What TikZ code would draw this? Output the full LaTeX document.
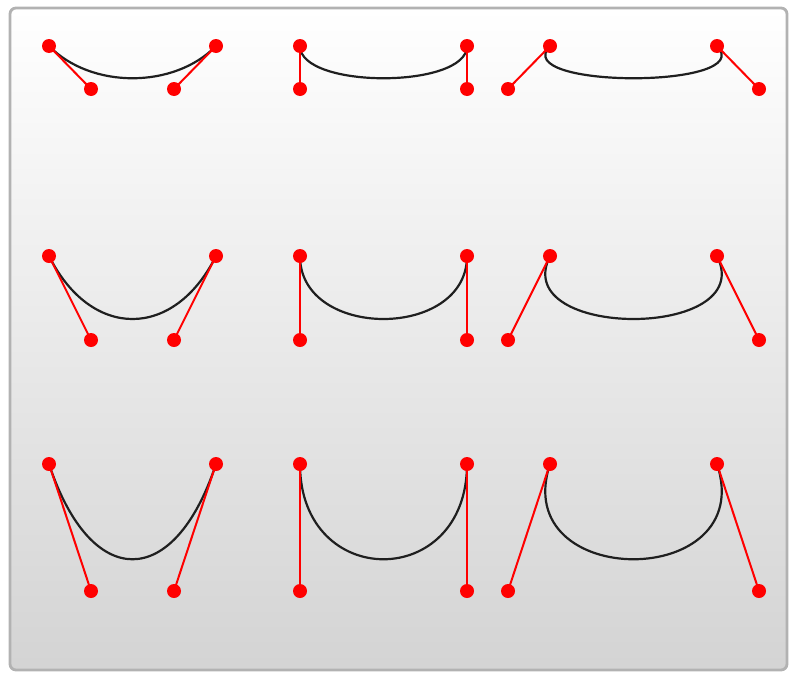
\documentclass[tikz,border=0pt]{standalone}
\usepackage{tikz}

\begin{document}
\begin{tikzpicture}[x=1pt, y=-1pt,
  curva/.style={black!88, line width=2.2pt},
  maniglia/.style={red, line width=2pt},
  punto/.style={red}]
  \useasboundingbox (0,0) rectangle (789,672);

  % Sfondo
  \shade[top color=white, bottom color=black!17, rounded corners=6pt] (10,8) rectangle (787,670);
  \draw[black!30, line width=2.8pt, rounded corners=6pt] (10,8) rectangle (787,670);

  % Curve di Bezier: righe (altezza delle maniglie), colonne (verso delle maniglie)
  \foreach \y/\d [count=\r] in {46/43, 256/84, 464/127} {
    \foreach \xa/\xb/\s [count=\c] in {49/216/42, 300/467/0, 550/717/-42} {
      \coordinate (p\r\c a) at (\xa,\y);
      \coordinate (p\r\c b) at ({\xa+\s},{\y+\d});
      \coordinate (p\r\c c) at ({\xb-\s},{\y+\d});
      \coordinate (p\r\c d) at (\xb,\y);

      \draw[curva] (p\r\c a) .. controls (p\r\c b) and (p\r\c c) .. (p\r\c d);
      \draw[maniglia] (p\r\c a) -- (p\r\c b);
      \draw[maniglia] (p\r\c d) -- (p\r\c c);

      % Punti di controllo
      \foreach \k in {a,b,c,d}
        \fill[punto] (p\r\c\k) circle (7pt);
    }
  }
\end{tikzpicture}
\end{document}
